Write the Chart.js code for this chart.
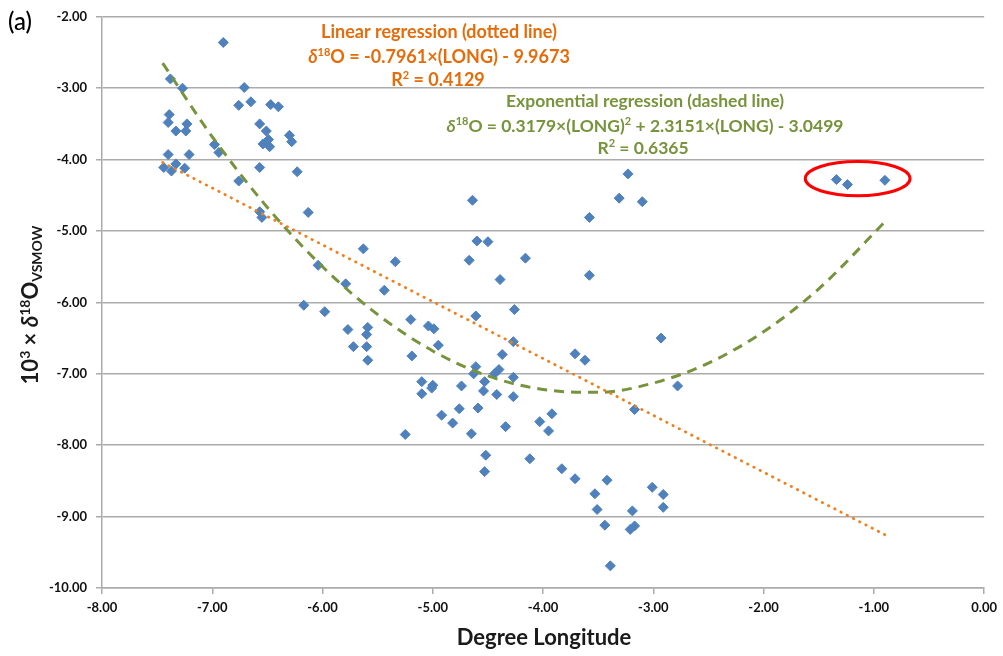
<!DOCTYPE html>
<html>
<head>
<meta charset="utf-8">
<script src="https://cdn.jsdelivr.net/npm/chart.js@4.4.1/dist/chart.umd.min.js"></script>
<style>
  html, body { margin: 0; padding: 0; background: #fff; }
</style>
</head>
<body>
<canvas id="chart" width="1003" height="656"></canvas>
<script>
// sample points (degree longitude vs 10^3 x d18O)
const longitude = [
  -6.90, -7.38, -7.27, -6.71, -6.76, -6.65, -6.47, -6.40, -7.39, -7.40,
  -7.33, -7.23, -7.24, -6.57, -6.51, -6.30, -6.28, -6.49, -6.54, -6.48,
  -6.98, -6.94, -7.40, -7.21, -7.44, -7.37, -7.33, -7.25, -6.57, -6.23,
  -6.76, -6.57, -6.55, -6.13, -5.63, -6.04, -5.79, -6.17, -5.98, -5.77,
  -5.59, -5.60, -5.72, -5.60, -5.34, -4.67, -4.60, -4.50, -5.44, -5.20,
  -5.04, -4.99, -5.59, -5.19, -4.95, -4.61, -4.63, -5.10, -5.00, -5.01,
  -5.10, -4.74, -4.76, -4.92, -4.39, -4.26, -4.61, -4.37, -4.27, -3.71,
  -3.62, -4.40, -4.44, -4.27, -4.53, -4.54, -4.42, -4.27, -4.59, -4.82,
  -4.65, -5.25, -4.34, -4.03, -3.92, -3.95, -4.52, -4.53, -4.12, -3.83,
  -3.71, -2.93, -2.78, -3.17, -3.42, -3.53, -3.51, -3.44, -3.39, -3.19,
  -3.21, -3.17, -3.01, -2.91, -2.91, -3.23, -3.31, -3.10, -3.58, -3.58,
  -1.34, -1.24, -0.90, -4.64, -4.16
];
const delta18O = [
  -2.36, -2.87, -3.00, -2.99, -3.24, -3.19, -3.23, -3.26, -3.37, -3.48,
  -3.60, -3.50, -3.60, -3.50, -3.60, -3.66, -3.75, -3.72, -3.78, -3.82,
  -3.79, -3.90, -3.93, -3.93, -4.11, -4.16, -4.06, -4.12, -4.11, -4.17,
  -4.30, -4.73, -4.81, -4.74, -5.25, -5.48, -5.74, -6.04, -6.13, -6.38,
  -6.35, -6.45, -6.62, -6.62, -5.43, -5.41, -5.14, -5.15, -5.83, -6.24,
  -6.33, -6.37, -6.81, -6.75, -6.60, -6.90, -7.00, -7.11, -7.16, -7.20,
  -7.28, -7.17, -7.49, -7.58, -5.68, -6.10, -6.19, -6.73, -6.55, -6.72,
  -6.81, -6.94, -7.00, -7.05, -7.11, -7.24, -7.29, -7.32, -7.48, -7.69,
  -7.84, -7.85, -7.74, -7.67, -7.56, -7.80, -8.14, -8.37, -8.19, -8.33,
  -8.47, -6.50, -7.17, -7.50, -8.49, -8.68, -8.90, -9.12, -9.69, -8.92,
  -9.18, -9.13, -8.59, -8.69, -8.87, -4.20, -4.54, -4.59, -4.81, -5.62,
  -4.28, -4.35, -4.29, -4.57, -5.38
];

// trend lines
const linearX = [-7.45, -0.88];
const linearY = [-4.04, -9.27];
const quadX = [-7.45, -7.0, -6.5, -6.0, -5.5, -5.0, -4.5, -4.0, -3.5, -3.0, -2.5, -2.0, -1.5, -0.88];
const quadY = [-2.65, -3.68, -4.67, -5.50, -6.17, -6.68, -7.03, -7.22, -7.26, -7.13, -6.85, -6.41, -5.81, -4.84];

// the three circled points
const outlierCenter = [-1.147, -4.266];
const outlierRadius = [0.475, 0.24];

const FONT = "Lato, 'Liberation Sans', sans-serif";
const blue = '#4F81BD';
const orange = '#E46C0A';
const green = '#77933C';
const gridGray = '#ababab';

const pts = (xs, ys) => xs.map((x, i) => ({ x: x, y: ys[i] }));

// draws mixed runs of text: n = normal, i = italic, sup, sub
function runFont(kind, size) {
  if (kind === 'sup' || kind === 'sub') return 'bold ' + Math.round(size * 0.62) + 'px ' + FONT;
  if (kind === 'i') return 'italic bold ' + size + 'px ' + FONT;
  return 'bold ' + size + 'px ' + FONT;
}
function drawRuns(ctx, runs, cx, baseY, size, color) {
  let total = 0;
  runs.forEach(r => { ctx.font = runFont(r[1], size); total += ctx.measureText(r[0]).width; });
  let x = cx - total / 2;
  ctx.fillStyle = color;
  ctx.textAlign = 'left';
  ctx.textBaseline = 'alphabetic';
  runs.forEach(r => {
    ctx.font = runFont(r[1], size);
    let dy = 0;
    if (r[1] === 'sup') dy = -size * 0.38;
    if (r[1] === 'sub') dy = size * 0.2;
    ctx.fillText(r[0], x, baseY + dy);
    x += ctx.measureText(r[0]).width;
  });
}

const extras = {
  id: 'extras',
  afterDatasetsDraw(chart) {
    const ctx = chart.ctx;
    const xs = chart.scales.x, ys = chart.scales.y;
    const cx = xs.getPixelForValue(outlierCenter[0]);
    const cy = ys.getPixelForValue(outlierCenter[1]);
    const rx = xs.getPixelForValue(outlierCenter[0] + outlierRadius[0]) - cx;
    const ry = ys.getPixelForValue(outlierCenter[1] - outlierRadius[1]) - cy;
    ctx.save();
    ctx.strokeStyle = '#FF0000';
    ctx.lineWidth = 3;
    ctx.beginPath();
    ctx.ellipse(cx, cy, rx, ry, 0, 0, Math.PI * 2);
    ctx.stroke();
    ctx.restore();
  },
  afterDraw(chart) {
    const ctx = chart.ctx;
    ctx.save();

    // panel label
    ctx.font = '500 24px ' + FONT;
    ctx.fillStyle = '#000';
    ctx.textBaseline = 'alphabetic';
    ctx.textAlign = 'left';
    ctx.fillText('(a)', 8, 30);

    // regression notes
    drawRuns(ctx, [['Linear regression (dotted line)', 'n']], 439, 38, 18, orange);
    drawRuns(ctx, [['δ', 'i'], ['18', 'sup'], ['O = -0.7961×(LONG) - 9.9673', 'n']], 439, 63, 18, orange);
    drawRuns(ctx, [['R', 'n'], ['2', 'sup'], [' = 0.4129', 'n']], 438, 86, 18, orange);

    drawRuns(ctx, [['Exponential regression (dashed line)', 'n']], 645, 107, 17.5, green);
    drawRuns(ctx, [['δ', 'i'], ['18', 'sup'], ['O = 0.3179×(LONG)', 'n'], ['2', 'sup'],
      [' + 2.3151×(LONG) - 3.0499', 'n']], 645, 132, 17.5, green);
    drawRuns(ctx, [['R', 'n'], ['2', 'sup'], [' = 0.6365', 'n']], 643, 154, 17.5, green);

    // axis titles
    drawRuns(ctx, [['Degree Longitude', 'n']], 544, 645, 22, '#1a1a1a');

    ctx.translate(38, 305);
    ctx.rotate(-Math.PI / 2);
    drawRuns(ctx, [['10', 'n'], ['3', 'sup'], [' × ', 'n'], ['δ', 'i'], ['18', 'sup'],
      ['O', 'n'], ['VSMOW', 'sub']], 0, 0, 22, '#1a1a1a');
    ctx.restore();
  }
};

const tickFont = { family: FONT, size: 13, weight: 'bold' };

new Chart(document.getElementById('chart'), {
  type: 'scatter',
  data: {
    datasets: [
      {
        label: 'Linear regression',
        data: pts(linearX, linearY),
        showLine: true,
        borderColor: '#F07F1E',
        borderWidth: 2.8,
        borderDash: [0.5, 6.5],
        borderCapStyle: 'round',
        pointRadius: 0,
        fill: false
      },
      {
        label: 'Exponential regression',
        data: pts(quadX, quadY),
        showLine: true,
        borderColor: green,
        borderWidth: 3,
        borderDash: [10, 7],
        cubicInterpolationMode: 'monotone',
        pointRadius: 0,
        fill: false
      },
      {
        label: 'Samples',
        data: pts(longitude, delta18O),
        pointStyle: 'rectRot',
        pointRadius: 5,
        backgroundColor: blue,
        borderColor: blue,
        borderWidth: 1
      }
    ]
  },
  options: {
    responsive: false,
    animation: false,
    layout: { padding: { top: 16, right: 16, left: 0, bottom: 0 } },
    plugins: { legend: { display: false }, tooltip: { enabled: false } },
    scales: {
      x: {
        type: 'linear',
        min: -8,
        max: 0,
        ticks: { stepSize: 1, callback: v => v.toFixed(2), padding: 6, font: tickFont, color: '#111' },
        grid: { drawOnChartArea: false, drawTicks: true, tickLength: 6, color: gridGray, lineWidth: 1.5 },
        border: { color: gridGray, width: 1.5 },
        afterFit: s => { s.height = 68; }
      },
      y: {
        min: -10,
        max: -2,
        ticks: { stepSize: 1, callback: v => v.toFixed(2), padding: 9, font: tickFont, color: '#111' },
        grid: { color: gridGray, lineWidth: 1.5, tickLength: 6 },
        border: { color: gridGray, width: 1.5 },
        afterFit: s => { s.width = 102; }
      }
    }
  },
  plugins: [extras]
});
</script>
</body>
</html>
